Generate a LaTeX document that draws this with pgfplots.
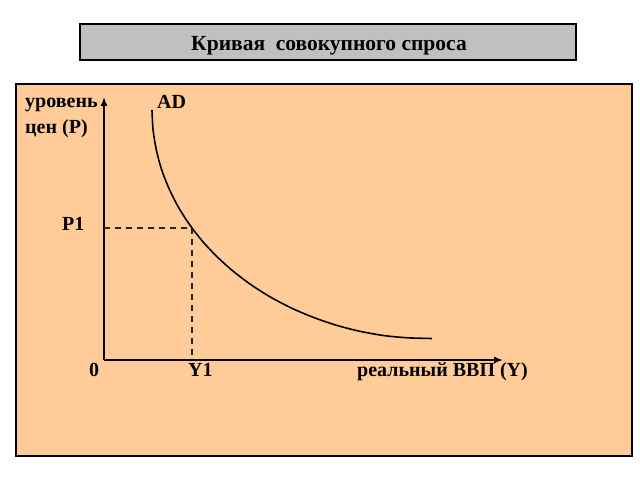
\documentclass[border=0pt]{standalone}
\usepackage{fontspec}
\setmainfont{Liberation Serif}
\usepackage{pgfplots}
\pgfplotsset{compat=1.18}
\usetikzlibrary{arrows.meta}

\definecolor{peach}{HTML}{FFCC99}
\definecolor{titlegray}{HTML}{C0C0C0}

\begin{document}
\begin{tikzpicture}[x=1bp,y=1bp,
    lbl/.style={inner sep=0pt,font=\bfseries\fontsize{20bp}{24bp}\selectfont}]
  % canvas and boxes
  \fill[white] (0,0) rectangle (640,480);
  \filldraw[fill=titlegray,draw=black,line width=1.2bp] (80,420) rectangle (576,456);
  \filldraw[fill=peach,draw=black,line width=1.2bp] (16,24) rectangle (632,396);
  \node[lbl,anchor=base,font=\bfseries\fontsize{21.5bp}{24bp}\selectfont] at (329,429) {Кривая\ \ совокупного спроса};

  \begin{axis}[
      x=1bp, y=1bp,
      anchor=south west, at={(104,120)},
      xmin=0, xmax=399, ymin=0, ymax=263,
      enlargelimits=false,
      axis lines=left,
      axis line style={line width=1.6bp,-{Latex[length=9bp,width=7bp]}},
      xtick=\empty, ytick=\empty,
      clip=false,
    ]
    % dashed guides to the point (Y1, P1)
    \addplot[black!85, line width=1.3bp, dash pattern=on 6bp off 5bp]
      coordinates {(0,132) (88,132) (88,0)};
    % AD curve
    \addplot[black, line width=1.6bp, smooth]
      coordinates {
        (48,250) (49.1,230.0) (52.3,210.2) (57.5,190.7) (64.9,171.7)
        (74.2,153.2) (85.5,135.5) (98.6,118.6) (113.5,102.8) (130.0,88.1)
        (148.0,74.6) (167.4,62.4) (188,51.7) (209.7,42.5) (232.2,34.8)
        (255.5,28.8) (279.4,24.5) (303.6,22.2) (328,21.5)
      };
  \end{axis}

  % labels
  \node[lbl,anchor=base west] at (25,372) {уровень};
  \node[lbl,anchor=base west] at (25,346) {цен (P)};
  \node[lbl,anchor=base west] at (157,371) {AD};
  \node[lbl,anchor=base west] at (62,249) {P1};
  \node[lbl,anchor=base west] at (89,103) {0};
  \node[lbl,anchor=base west] at (188,103) {Y1};
  \node[lbl,anchor=base west] at (357,103) {реальный ВВП (Y)};
\end{tikzpicture}
\end{document}
